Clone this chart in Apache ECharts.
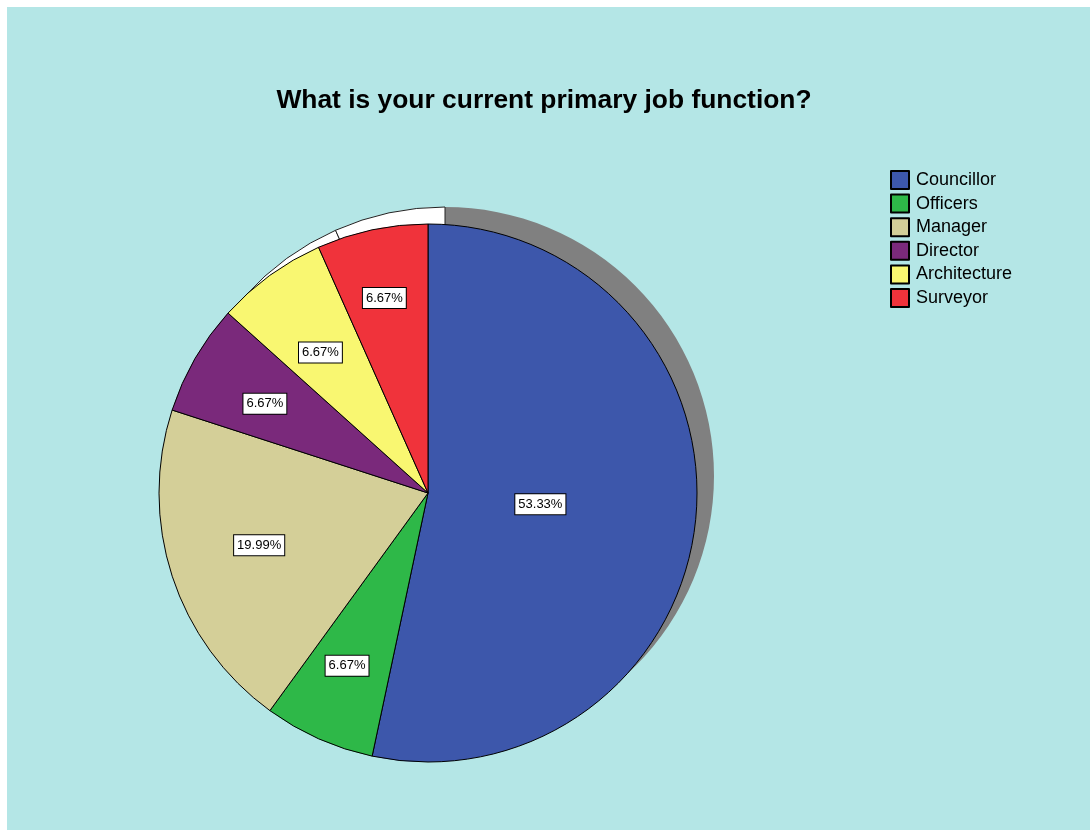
<!DOCTYPE html>
<html lang="en">
<head>
    <meta charset="utf-8">
    <title>ECharts</title>
    <script src="https://cdn.jsdelivr.net/npm/echarts@6/dist/echarts.min.js"></script>
    <style>
        body { margin: 0; background: #ffffff; }
        #main { position: absolute; left: 7px; top: 7px; width: 1083px; height: 823px; }
    </style>
</head>
<body>
<div id="main"></div>
<script type="text/javascript">
    // 数据
    var names = ['Councillor', 'Officers', 'Manager', 'Director', 'Architecture', 'Surveyor'];
    var percents = [53.33, 6.67, 19.99, 6.67, 6.67, 6.67];
    var colors = ['#3d57ab', '#2eb848', '#d4cf98', '#7a297b', '#f9f771', '#f0333b'];
    // how far out each label sits (share of the radius)
    var labelRatio = [0.42, 0.74, 0.66, 0.70, 0.68, 0.78];

    var cx = 421, cy = 486, R = 269;
    var total = percents.reduce(function (a, b) { return a + b; }, 0);

    var mainData = [];
    var shadowData = [];
    for (var i = 0; i < names.length; i++) {
        mainData.push({
            name: names[i],
            value: percents[i],
            itemStyle: { color: colors[i] }
        });
        // shadow copy: the big slice is grey, the rest white
        shadowData.push({
            name: names[i],
            value: percents[i],
            itemStyle: i === 0
                ? { color: '#808080', borderWidth: 0 }
                : { color: '#ffffff', borderColor: '#222', borderWidth: 1 }
        });
    }

    function labelPos(params) {
        var idx = params.dataIndex;
        var before = 0;
        for (var k = 0; k < idx; k++) before += percents[k];
        var a = (before + percents[idx] / 2) / total * Math.PI * 2;
        var r = R * labelRatio[idx];
        return {
            x: cx + r * Math.sin(a),
            y: cy - r * 0.95 * Math.cos(a),
            align: 'center',
            verticalAlign: 'middle'
        };
    }

    var chart = echarts.init(document.getElementById('main'));
    var option = {
        backgroundColor: '#b4e6e6',
        animation: false,
        title: {
            text: 'What is your current primary job function?',
            left: 532,
            top: 76,
            textAlign: 'center',
            textStyle: {
                fontFamily: 'Liberation Sans, Arial, sans-serif',
                fontSize: 26.4,
                fontWeight: 'bold',
                color: '#000'
            }
        },
        legend: {
            orient: 'vertical',
            left: 878,
            top: 158,
            itemWidth: 18,
            itemHeight: 18,
            itemGap: 3.6,
            icon: 'rect',
            selectedMode: false,
            data: names,
            textStyle: {
                fontFamily: 'Liberation Sans, Arial, sans-serif',
                fontSize: 18,
                color: '#000',
                padding: [0, 0, 0, 2]
            }
        },
        series: [
            {
                name: 'job',
                type: 'pie',
                z: 3,
                center: [cx, cy],
                radius: [0, R],
                startAngle: 90,
                clockwise: true,
                silent: true,
                itemStyle: { borderColor: '#000', borderWidth: 1 },
                label: {
                    show: true,
                    position: 'inside',
                    formatter: '{c}%',
                    fontFamily: 'Liberation Sans, Arial, sans-serif',
                    fontSize: 13,
                    color: '#000',
                    backgroundColor: '#fff',
                    borderColor: '#000',
                    borderWidth: 1,
                    padding: [4, 3, 3, 3]
                },
                labelLayout: labelPos,
                labelLine: { show: false },
                data: mainData
            },
            {
                name: 'shadow',
                type: 'pie',
                z: 2,
                center: [cx + 17, cy - 17],
                radius: [0, R],
                startAngle: 90,
                clockwise: true,
                silent: true,
                label: { show: false },
                labelLine: { show: false },
                data: shadowData
            }
        ]
    };
    chart.setOption(option);
</script>
</body>
</html>
